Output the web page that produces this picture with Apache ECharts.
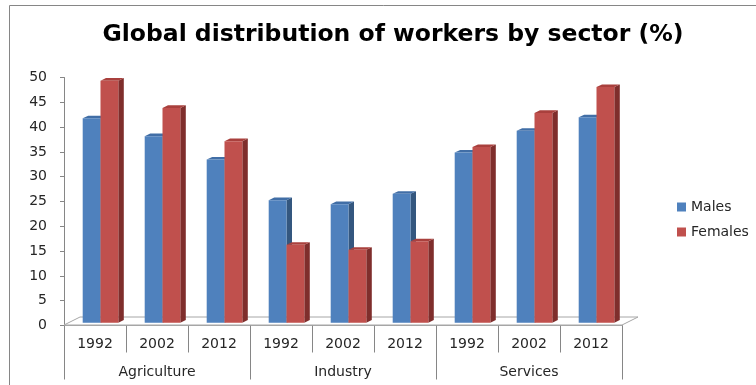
<!DOCTYPE html>
<html>
<head>
<meta charset="utf-8">
<script src="https://cdn.jsdelivr.net/npm/echarts/dist/echarts.min.js"></script>
<style>
  html, body { margin: 0; padding: 0; background: #ffffff; }
  #chart { width: 756px; height: 385px; }
</style>
</head>
<body>
<div id="chart"></div>
<script>
// Share of workers in each sector, by sex (%)
const years = ['1992', '2002', '2012', '1992', '2002', '2012', '1992', '2002', '2012'];
const sectors = ['Agriculture', 'Industry', 'Services'];
const males = [41.2, 37.6, 32.9, 24.7, 23.9, 26.0, 34.3, 38.7, 41.4];
const females = [48.8, 43.3, 36.6, 15.7, 14.7, 16.4, 35.4, 42.3, 47.5];
const yTicks = { min: 0, max: 50, step: 5 };

const FONT = 'DejaVu Sans';
const DEPTH = [5.5, -2.6];      // bar side / top extrusion
const BAR_SHIFT = [5.5, -2.8];  // bars stand a little way back on the floor
const BAR_W = 17.8;

const palette = {
  Males:   { front: '#4F81BD', side: '#34577F', top: '#416EA6' },
  Females: { front: '#C0504D', side: '#7F2E2C', top: '#A9403D' }
};

// 3D-looking column: front face, right side and top face
function columnRenderer(name, slot) {
  const c = palette[name];
  return function (params, api) {
    const idx = api.value(0);
    const top = api.coord([idx, api.value(1)]);
    const base = api.coord([idx, 0]);
    const x0 = top[0] + BAR_SHIFT[0] + (slot === 0 ? -BAR_W : 0);
    const x1 = x0 + BAR_W;
    const yt = top[1] + BAR_SHIFT[1];
    const yb = base[1] + BAR_SHIFT[1];
    const dx = DEPTH[0], dy = DEPTH[1];
    return {
      type: 'group',
      children: [
        { type: 'polygon', shape: { points: [[x1, yb], [x1 + dx, yb + dy], [x1 + dx, yt + dy], [x1, yt]] },
          style: { fill: c.side } },
        { type: 'polygon', shape: { points: [[x0, yt], [x0 + dx, yt + dy], [x1 + dx, yt + dy], [x1, yt]] },
          style: { fill: c.top } },
        { type: 'rect', shape: { x: x0, y: yt, width: BAR_W, height: yb - yt },
          style: { fill: c.front } }
      ]
    };
  };
}

// Floor of the plot area, seen slightly from above
function floorRenderer(params, api) {
  const cs = params.coordSys;
  const yb = cs.y + cs.height - 0.5;
  const dx = 16, dy = -8;
  return {
    type: 'polygon',
    shape: { points: [[cs.x, yb], [cs.x + dx, yb + dy], [cs.x + cs.width + dx, yb + dy], [cs.x + cs.width, yb]] },
    style: { fill: '#ffffff', stroke: '#A6A6A6', lineWidth: 1 }
  };
}

const chart = echarts.init(document.getElementById('chart'), null, { renderer: 'canvas' });

chart.setOption({
  animation: false,
  backgroundColor: '#ffffff',
  textStyle: { fontFamily: FONT },
  title: {
    text: 'Global distribution of workers by sector (%)',
    left: 388,
    textAlign: 'center',
    top: 18,
    textStyle: { fontFamily: FONT, fontSize: 23.5, fontWeight: 'bold', color: '#000000' }
  },
  graphic: [{
    type: 'rect',
    shape: { x: 9.5, y: 5.5, width: 800, height: 420 },
    style: { fill: 'none', stroke: '#868686', lineWidth: 1 },
    silent: true,
    z: -1
  }],
  legend: {
    data: ['Males', 'Females'],
    orient: 'vertical',
    left: 677,
    top: 199,
    padding: 0,
    icon: 'rect',
    itemWidth: 9,
    itemHeight: 9,
    itemGap: 9,
    textStyle: { fontFamily: FONT, fontSize: 14, color: '#262626', lineHeight: 16 }
  },
  grid: { left: 64, right: 134, top: 77.5, bottom: 59.5 },
  xAxis: [{
    type: 'category',
    data: years,
    position: 'bottom',
    axisLine: { show: true, lineStyle: { color: '#A6A6A6' } },
    axisTick: { show: true, interval: 0, length: 27, lineStyle: { color: '#868686' } },
    axisLabel: { interval: 0, margin: 12, fontFamily: FONT, fontSize: 14, color: '#262626' },
    splitLine: { show: false }
  }, {
    type: 'category',
    data: sectors,
    position: 'bottom',
    axisLine: { show: false },
    axisTick: { show: true, interval: 0, length: 54, lineStyle: { color: '#868686' } },
    axisLabel: { interval: 0, margin: 40, fontFamily: FONT, fontSize: 14, color: '#262626' },
    splitLine: { show: false }
  }],
  yAxis: {
    type: 'value',
    min: yTicks.min,
    max: yTicks.max,
    interval: yTicks.step,
    axisLine: { show: true, lineStyle: { color: '#868686' } },
    axisTick: { show: true, length: 4, lineStyle: { color: '#868686' } },
    axisLabel: { margin: 17, fontFamily: FONT, fontSize: 14, color: '#262626' },
    splitLine: { show: false }
  },
  series: [{
    name: 'floor',
    type: 'custom',
    silent: true,
    xAxisIndex: 0,
    renderItem: floorRenderer,
    data: [[0, 0]],
    z: 1
  }, {
    name: 'Males',
    type: 'custom',
    xAxisIndex: 0,
    itemStyle: { color: palette.Males.front },
    renderItem: columnRenderer('Males', 0),
    encode: { x: 0, y: 1 },
    data: males.map((v, i) => [i, v]),
    z: 2
  }, {
    name: 'Females',
    type: 'custom',
    xAxisIndex: 0,
    itemStyle: { color: palette.Females.front },
    renderItem: columnRenderer('Females', 1),
    encode: { x: 0, y: 1 },
    data: females.map((v, i) => [i, v]),
    z: 3
  }]
});
</script>
</body>
</html>
